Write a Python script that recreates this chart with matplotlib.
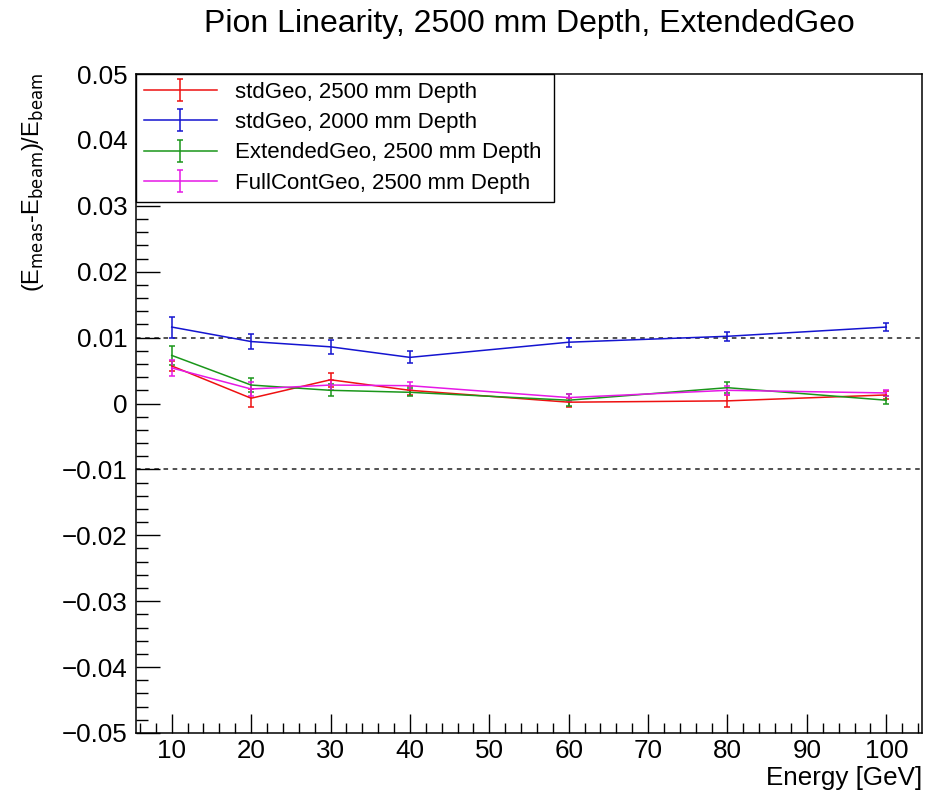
import matplotlib
matplotlib.use("Agg")
import matplotlib.pyplot as plt
from matplotlib.ticker import MultipleLocator, FuncFormatter
import numpy as np

plt.rcParams['font.family'] = ['Liberation Sans', 'DejaVu Sans']

energy = [10, 20, 30, 40, 60, 80, 100]

labels = ["stdGeo, 2500 mm Depth", "stdGeo, 2000 mm Depth",
          "ExtendedGeo, 2500 mm Depth", "FullContGeo, 2500 mm Depth"]
colors = ['#ee1111', '#1414d0', '#1a961a', '#e619e6']

std2500 = [0.0057, 0.0008, 0.0036, 0.0020, 0.0002, 0.0004, 0.0013]
std2500_err = [0.0008, 0.0014, 0.0011, 0.0007, 0.0007, 0.0009, 0.0006]
std2000 = [0.0116, 0.0094, 0.0086, 0.0070, 0.0093, 0.0102, 0.0116]
std2000_err = [0.0016, 0.0012, 0.0011, 0.0009, 0.0007, 0.0007, 0.0006]
ext2500 = [0.0073, 0.0028, 0.0020, 0.0017, 0.0005, 0.0024, 0.0005]
ext2500_err = [0.0015, 0.0011, 0.0009, 0.0006, 0.0009, 0.0008, 0.0006]
full2500 = [0.0054, 0.0022, 0.0028, 0.0027, 0.0009, 0.0020, 0.0016]
full2500_err = [0.0012, 0.0010, 0.0008, 0.0006, 0.0005, 0.0007, 0.0005]

series = [(std2500, std2500_err), (std2000, std2000_err),
          (ext2500, ext2500_err), (full2500, full2500_err)]

W, H = 941, 794
fig = plt.figure(figsize=(W / 100, H / 100), dpi=100)
ax = fig.add_axes([136 / W, 1 - 733 / H, (922 - 136) / W, (733 - 74) / H])

xmin, xmax = 5.5, 104.5
ax.set_xlim(xmin, xmax)
ax.set_ylim(-0.05, 0.05)

# reference lines at +-1%
for yv in (0.01, -0.01):
    ax.plot([xmin, xmax], [yv, yv], color='#222222', lw=1.1,
            dashes=(3, 3), zorder=1)

handles = []
for (vals, errs), c, lab in zip(series, colors, labels):
    h = ax.errorbar(energy, vals, yerr=errs, color=c, lw=1.1, elinewidth=1.1,
                    capsize=2.5, capthick=1.1, label=lab, zorder=2)
    handles.append(h)

ax.xaxis.set_major_locator(MultipleLocator(10))
ax.xaxis.set_minor_locator(MultipleLocator(2))
ax.yaxis.set_major_locator(MultipleLocator(0.01))
ax.yaxis.set_minor_locator(MultipleLocator(0.002))


def yfmt(v, pos):
    if abs(v) < 1e-9:
        return "0"
    s = "%.2f" % v
    return s.replace("-", "\u2212")


ax.yaxis.set_major_formatter(FuncFormatter(yfmt))
ax.tick_params(axis='both', which='both', direction='in', top=False, right=False,
               labelsize=18.7, width=1.0)
ax.tick_params(axis='y', which='major', length=17, pad=6)
ax.tick_params(axis='y', which='minor', length=8.5)
ax.tick_params(axis='x', which='major', length=14, pad=4)
ax.tick_params(axis='x', which='minor', length=7)
for sp in ax.spines.values():
    sp.set_linewidth(1.1)

fig.text(529 / W, 1 - 32 / H, "Pion Linearity, 2500 mm Depth, ExtendedGeo",
         ha='center', va='baseline', fontsize=23)
fig.text(922 / W, 1 - 778 / H, "Energy [GeV]", ha='right', va='center',
         fontsize=18.7)
fig.text(33 / W, 1 - 73 / H,
         r"(E$_{\mathrm{meas}}$-E$_{\mathrm{beam}}$)/E$_{\mathrm{beam}}$",
         rotation=90, ha='center', va='top', fontsize=17)

leg = ax.legend(handles=handles, loc='upper left',
                bbox_to_anchor=(0, 1, (554 - 136) / (922 - 136), 0), mode='expand',
                borderaxespad=0, fontsize=16, frameon=True, fancybox=False,
                framealpha=1, edgecolor='black', handlelength=3.3,
                handletextpad=0.8, labelspacing=0.42, borderpad=0.35)
leg.get_frame().set_linewidth(1.0)

fig.savefig("out.png", dpi=100)
